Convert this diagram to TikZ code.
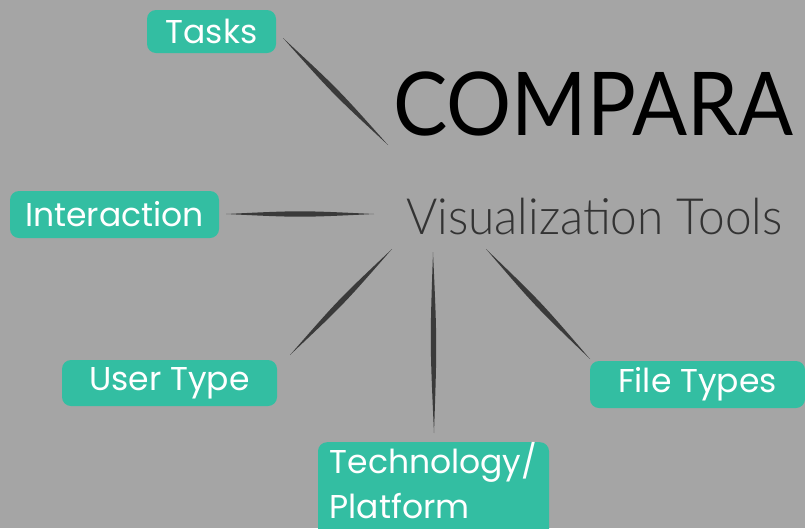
\documentclass[tikz,border=0pt]{standalone}
\usepackage{fontspec}
\setmainfont{Lato}
\newfontfamily\titlefont{Lato}[FakeStretch=0.925]
\newfontfamily\boxfont{Poppins}
\newfontfamily\lightfont{Lato Light}[FakeStretch=0.955]
\usetikzlibrary{calc}
\definecolor{bg}{HTML}{A5A5A5}
\definecolor{tagteal}{HTML}{33BEA2}
\definecolor{linegray}{HTML}{3A3A3A}
\definecolor{subgray}{HTML}{333333}
\tikzset{
  tag/.style={fill=tagteal, rounded corners=9pt, text=white, inner sep=0pt, align=center,
    font=\boxfont\fontsize{33}{36}\selectfont},
  lens/.style={fill=linegray}
}
\newcommand\lensline[2]{\fill[lens] (#1) .. controls ($(#1)!0.5!(#2)!3.6pt!90:(#2)$) .. (#2) .. controls ($(#1)!0.5!(#2)!3.6pt!-90:(#2)$) .. (#1) -- cycle;}
\begin{document}
\begin{tikzpicture}[x=1pt,y=-1pt]
\fill[bg] (0,0) rectangle (805,528);
\useasboundingbox (0,0) rectangle (805,528);

\node[anchor=base west, inner sep=0pt, text=black, font=\titlefont\fontsize{88}{90}\selectfont] (title) at (393,135) {COMPARA};
\node[anchor=base west, inner sep=0pt, text=subgray, font=\lightfont\fontsize{50}{55}\selectfont] (sub) at (406,234) {Visualization Tools};

\node[tag, minimum width=129pt, minimum height=43pt] (tasks) at (211.5,31.5) {Tasks};
\node[tag, minimum width=209pt, minimum height=47pt] (inter) at (114.5,214.5) {Interaction};
\node[tag, minimum width=215pt, minimum height=46pt] (user) at (169.5,383) {User Type};
\node[tag, minimum width=215pt, minimum height=47pt] (file) at (697.5,384.5) {File Types};
\node[tag, minimum width=231pt, minimum height=100pt, anchor=north, align=left, text depth=26pt,
  font=\boxfont\fontsize{33}{45}\selectfont] (tech) at (433.5,442) {Technology/\\Platform};

\coordinate (t1) at (283,38);  \coordinate (t2) at (388,145);
\coordinate (i1) at (226,214); \coordinate (i2) at (374,214);
\coordinate (u1) at (290,355); \coordinate (u2) at (392,249);
\coordinate (p1) at (433,252); \coordinate (p2) at (434,433);
\coordinate (f1) at (486,249); \coordinate (f2) at (590,359);

\lensline{t1}{t2}
\lensline{i1}{i2}
\lensline{u1}{u2}
\lensline{p1}{p2}
\lensline{f1}{f2}
\end{tikzpicture}
\end{document}
